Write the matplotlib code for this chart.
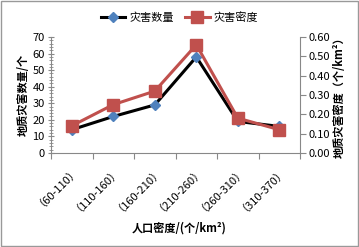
import matplotlib.pyplot as plt
from matplotlib.ticker import MultipleLocator, FormatStrFormatter
from matplotlib.patches import Rectangle

plt.rcParams['font.family'] = ['Noto Sans CJK SC', 'DejaVu Sans']

# data
categories = ['（60-110）', '（110-160）', '（160-210）', '（210-260）', '（260-310）', '（310-370）']
count = [14, 22, 29, 58, 19, 16]
density = [0.14, 0.25, 0.32, 0.56, 0.18, 0.12]

fig = plt.figure(figsize=(3.59, 2.47), dpi=100)
ax = fig.add_axes([0.142, 0.381, 0.694, 0.469])
ax2 = ax.twinx()

x = list(range(len(categories)))
l1, = ax.plot(x, count, color='black', lw=2.2, marker='D', ms=5,
              mfc='#4F81BD', mec='#4F81BD', label='灾害数量', zorder=3)
l2, = ax2.plot(x, density, color='#C0504D', lw=2.2, marker='s', ms=8.5,
               mfc='#C0504D', mec='#C0504D', label='灾害密度', zorder=3)

ax.set_xlim(-0.5, len(categories) - 0.5)
ax.set_ylim(0, 70)
ax2.set_ylim(0, 0.6)
ax.yaxis.set_major_locator(MultipleLocator(10))
ax.yaxis.set_minor_locator(MultipleLocator(2))
ax2.yaxis.set_major_locator(MultipleLocator(0.1))
ax2.yaxis.set_major_formatter(FormatStrFormatter('%.2f'))

ax.set_xticks([i - 0.5 for i in range(len(categories) + 1)], minor=False)
ax.set_xticklabels([])
ax.set_xticks(x, minor=True)
ax.set_xticklabels(categories, minor=True, rotation=45, ha='right',
                   rotation_mode='anchor', fontsize=8)
ax.tick_params(axis='x', which='minor', length=0, pad=6)
ax.tick_params(axis='x', which='major', length=4, color='#888888', direction='out')

ax.tick_params(axis='y', which='major', labelsize=8, length=5, direction='inout', color='#888888', pad=2)
ax.tick_params(axis='y', which='minor', length=3, direction='inout', color='#888888')
ax2.tick_params(axis='y', labelsize=8, length=4, direction='out', color='#888888', pad=2)

for a in (ax, ax2):
    a.spines['top'].set_visible(False)
    for s in ('left', 'right', 'bottom'):
        a.spines[s].set_color('#888888')
ax.spines['right'].set_visible(False)
ax2.spines['left'].set_visible(False)
ax2.spines['bottom'].set_visible(False)

ax.set_ylabel('地质灾害数量/个', fontsize=8, fontweight='bold', labelpad=2)
ax2.set_ylabel('地质灾害密度（个/km²）', fontsize=8, fontweight='bold', rotation=90, labelpad=2)
fig.text(0.5, 0.077, '人口密度/(个/km²)', ha='center', va='center', fontsize=8, fontweight='bold')

fig.legend(handles=[l1, l2], loc='center', bbox_to_anchor=(0.5, 0.93), ncol=2,
           frameon=False, fontsize=8, handlelength=2.2, handletextpad=0.4, columnspacing=1.0)

fig.patches.append(Rectangle((0.003, 0.004), 0.994, 0.992, transform=fig.transFigure,
                             fill=False, edgecolor='#999999', lw=1))

fig.savefig('out.png', dpi=100)
